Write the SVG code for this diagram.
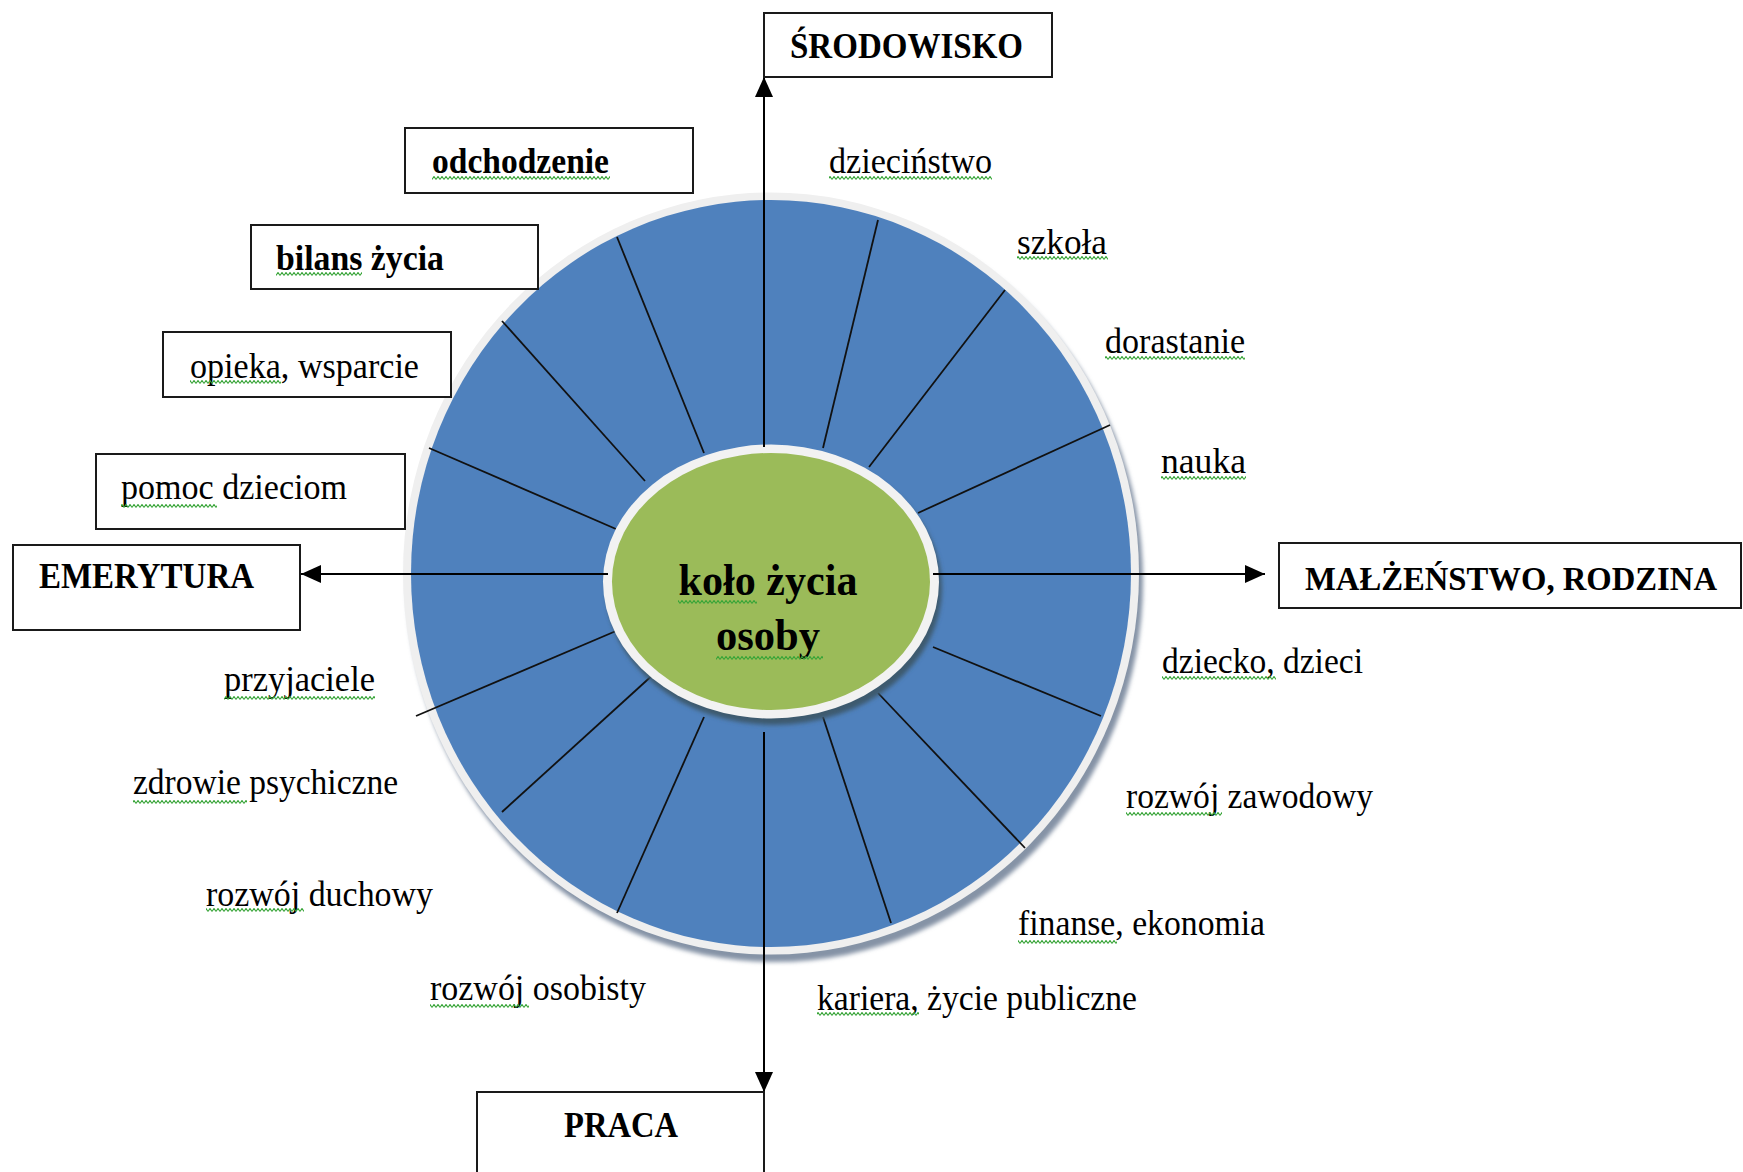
<svg xmlns="http://www.w3.org/2000/svg" width="1743" height="1172" viewBox="0 0 1743 1172">
<defs>
<style>
.box{fill:#fff;stroke:#1a1a1a;stroke-width:2}
.bt{font-family:"Liberation Serif","Times New Roman",serif;font-weight:bold;font-size:35px;fill:#000}
.bt2{font-size:33px}
.lt{font-family:"Liberation Serif","Times New Roman",serif;font-size:36px;fill:#000}
.ct{font-family:"Liberation Serif","Times New Roman",serif;font-weight:bold;font-size:45px;fill:#000;text-anchor:middle}
.spoke{stroke:#111;stroke-width:1.8;fill:none}
.axis{stroke:#000;stroke-width:2;fill:none}
.sq{fill:url(#squig)}
</style>
<marker id="arr" markerUnits="userSpaceOnUse" markerWidth="22" markerHeight="20" refX="20" refY="9" orient="auto" viewBox="0 0 22 20">
<path d="M0,0 L20,9 L0,18 z" fill="#000"/>
</marker>
<pattern id="squig" patternUnits="userSpaceOnUse" width="4" height="4">
<path d="M0,3.5 L2,0.5 L4,3.5" fill="none" stroke="#36a436" stroke-width="1.1"/>
</pattern>
<filter id="blur" x="-10%" y="-10%" width="120%" height="120%"><feGaussianBlur stdDeviation="2"/></filter>
</defs>
<rect width="1743" height="1172" fill="#fff"/>

<g id="wheel">
<ellipse cx="775" cy="581" rx="368" ry="381" fill="#8593a6" filter="url(#blur)"/>
<ellipse cx="771" cy="573.5" rx="368" ry="381" fill="#efefef"/>
<ellipse cx="771" cy="573.5" rx="360" ry="373.5" fill="#4f81bd"/>
<g id="spokes">
<line class="spoke" x1="617" y1="237" x2="704" y2="453"/>
<line class="spoke" x1="502" y1="321" x2="645" y2="481"/>
<line class="spoke" x1="429" y1="448" x2="616" y2="529"/>
<line class="spoke" x1="878" y1="220" x2="823" y2="448"/>
<line class="spoke" x1="1005" y1="290" x2="869" y2="467"/>
<line class="spoke" x1="1110" y1="425" x2="918" y2="513"/>
<line class="spoke" x1="933" y1="647" x2="1101" y2="716"/>
<line class="spoke" x1="878" y1="693" x2="1025" y2="848"/>
<line class="spoke" x1="823" y1="717" x2="891" y2="923"/>
<line class="spoke" x1="704" y1="717" x2="617" y2="913"/>
<line class="spoke" x1="656" y1="672" x2="502" y2="812"/>
<line class="spoke" x1="616" y1="631" x2="416" y2="716"/>
</g>
</g>

<g id="center">
<ellipse cx="774" cy="588" rx="168" ry="137" fill="#3d5a6e" filter="url(#blur)"/>
<ellipse cx="771" cy="581.5" rx="168" ry="137" fill="#f2f2f2"/>
<ellipse cx="771" cy="581.5" rx="159" ry="128.5" fill="#9bbb59"/>
<text class="ct" x="768" y="595" textLength="179" lengthAdjust="spacingAndGlyphs">koło życia</text>
<text class="ct" x="768" y="650" textLength="104" lengthAdjust="spacingAndGlyphs">osoby</text>
</g>

<g id="connectors">
<line class="axis" x1="764" y1="447" x2="764" y2="77" marker-end="url(#arr)"/>
<line class="axis" x1="764" y1="732" x2="764" y2="1092" marker-end="url(#arr)"/>
<line class="axis" x1="608" y1="574" x2="301" y2="574" marker-end="url(#arr)"/>
<line class="axis" x1="933" y1="574" x2="1265" y2="574" marker-end="url(#arr)"/>
</g>

<g id="srodowisko"><rect class="box" x="764" y="13" width="288" height="64"/><text class="bt" x="790" y="58" textLength="233" lengthAdjust="spacingAndGlyphs">ŚRODOWISKO</text></g>
<g id="odchodzenie"><rect class="box" x="405" y="128" width="288" height="65"/><text class="bt" x="432" y="173" textLength="177" lengthAdjust="spacingAndGlyphs">odchodzenie</text></g>
<g id="bilans"><rect class="box" x="251" y="225" width="287" height="64"/><text class="bt" x="276" y="270" textLength="168" lengthAdjust="spacingAndGlyphs">bilans życia</text></g>
<g id="opieka"><rect class="box" x="163" y="332" width="288" height="65"/><text class="lt" x="190" y="378" textLength="229" lengthAdjust="spacingAndGlyphs">opieka, wsparcie</text></g>
<g id="pomoc"><rect class="box" x="96" y="454" width="309" height="75"/><text class="lt" x="121" y="499" textLength="226" lengthAdjust="spacingAndGlyphs">pomoc dzieciom</text></g>
<g id="emerytura"><rect class="box" x="13" y="545" width="287" height="85"/><text class="bt" x="39" y="588" textLength="215" lengthAdjust="spacingAndGlyphs">EMERYTURA</text></g>
<g id="malzenstwo"><rect class="box" x="1279" y="543" width="462" height="65"/><text class="bt bt2" x="1305" y="590" textLength="412" lengthAdjust="spacingAndGlyphs">MAŁŻEŃSTWO, RODZINA</text></g>
<g id="praca"><rect class="box" x="477" y="1092" width="287" height="90"/><text class="bt" x="564" y="1137" textLength="114" lengthAdjust="spacingAndGlyphs">PRACA</text></g>

<g id="labels">
<g id="l-dziecinstwo"><text class="lt" x="829" y="173" textLength="163" lengthAdjust="spacingAndGlyphs">dzieciństwo</text></g>
<g id="l-szkola"><text class="lt" x="1017" y="254" textLength="90" lengthAdjust="spacingAndGlyphs">szkoła</text></g>
<g id="l-dorastanie"><text class="lt" x="1105" y="353" textLength="140" lengthAdjust="spacingAndGlyphs">dorastanie</text></g>
<g id="l-nauka"><text class="lt" x="1161" y="473" textLength="85" lengthAdjust="spacingAndGlyphs">nauka</text></g>
<g id="l-dziecko"><text class="lt" x="1162" y="673" textLength="201" lengthAdjust="spacingAndGlyphs">dziecko, dzieci</text></g>
<g id="l-zawodowy"><text class="lt" x="1126" y="808" textLength="247" lengthAdjust="spacingAndGlyphs">rozwój zawodowy</text></g>
<g id="l-finanse"><text class="lt" x="1018" y="935" textLength="247" lengthAdjust="spacingAndGlyphs">finanse, ekonomia</text></g>
<g id="l-kariera"><text class="lt" x="817" y="1010" textLength="320" lengthAdjust="spacingAndGlyphs">kariera, życie publiczne</text></g>
<g id="l-osobisty"><text class="lt" x="430" y="1000" textLength="216" lengthAdjust="spacingAndGlyphs">rozwój osobisty</text></g>
<g id="l-duchowy"><text class="lt" x="206" y="906" textLength="227" lengthAdjust="spacingAndGlyphs">rozwój duchowy</text></g>
<g id="l-zdrowie"><text class="lt" x="133" y="794" textLength="265" lengthAdjust="spacingAndGlyphs">zdrowie psychiczne</text></g>
<g id="l-przyjaciele"><text class="lt" x="224" y="691" textLength="151" lengthAdjust="spacingAndGlyphs">przyjaciele</text></g>
</g>

<g id="spellcheck">
<rect class="sq" x="432" y="176" width="178" height="4"/>
<rect class="sq" x="276" y="272" width="86" height="4"/>
<rect class="sq" x="190" y="380" width="91" height="4"/>
<rect class="sq" x="121" y="504" width="96" height="4"/>
<rect class="sq" x="829" y="176" width="163" height="4"/>
<rect class="sq" x="1017" y="256" width="91" height="4"/>
<rect class="sq" x="1105" y="356" width="140" height="4"/>
<rect class="sq" x="1161" y="476" width="85" height="4"/>
<rect class="sq" x="1162" y="676" width="114" height="4"/>
<rect class="sq" x="1126" y="812" width="96" height="4"/>
<rect class="sq" x="1018" y="940" width="99" height="4"/>
<rect class="sq" x="817" y="1012" width="102" height="4"/>
<rect class="sq" x="430" y="1004" width="99" height="4"/>
<rect class="sq" x="206" y="908" width="98" height="4"/>
<rect class="sq" x="133" y="800" width="114" height="4"/>
<rect class="sq" x="224" y="696" width="151" height="4"/>
<rect class="sq" x="678" y="600" width="79" height="4"/>
<rect class="sq" x="716" y="656" width="107" height="4"/>
</g>
</svg>
